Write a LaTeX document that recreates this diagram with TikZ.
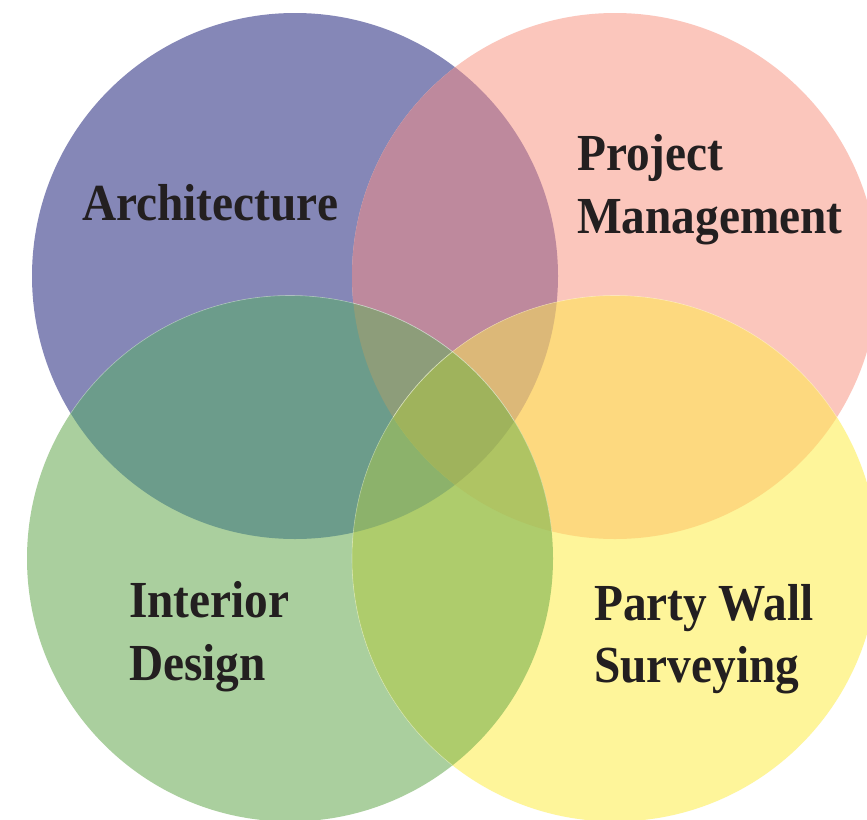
\documentclass[tikz,border=0pt]{standalone}
\usepackage{fontspec}
\newfontfamily\labfont[FakeStretch=0.91]{Liberation Serif}
\definecolor{cB}{HTML}{8587B7}
\definecolor{cP}{HTML}{FBC6BC}
\definecolor{cG}{HTML}{AACF9E}
\definecolor{cY}{HTML}{FEF59A}
\definecolor{cBP}{HTML}{BE899D}
\definecolor{cBG}{HTML}{6C9C8B}
\definecolor{cPY}{HTML}{FDD97F}
\definecolor{cGY}{HTML}{AECC6C}
\definecolor{cBPG}{HTML}{8D9D7A}
\definecolor{cBPY}{HTML}{DCB878}
\definecolor{cBGY}{HTML}{8CB26B}
\definecolor{cPGY}{HTML}{AFC463}
\definecolor{cALL}{HTML}{9FB35C}
\definecolor{txt}{HTML}{231F20}
\begin{document}
\begin{tikzpicture}[x=1pt,y=-1pt,
  lab/.style={anchor=base west,inner sep=0pt,text=txt,font=\labfont\bfseries\fontsize{52}{63}\selectfont},
  seam/.style={draw=white,draw opacity=0.35,line width=0.6pt}]
\clip (0,0) rectangle (867,819);
\fill[white] (0,0) rectangle (867,819);
\coordinate (B) at (295,276);
\coordinate (P) at (615,276);
\coordinate (G) at (290,558.5);
\coordinate (Y) at (615,558.5);
\def\R{263pt}
% single circles
\fill[cB] (B) circle[radius=\R];
\fill[cP] (P) circle[radius=\R];
\fill[cG] (G) circle[radius=\R];
\fill[cY] (Y) circle[radius=\R];
% pairs
\begin{scope}
  \clip (B) circle[radius=\R];
  \fill[cBP] (P) circle[radius=\R];
  \fill[cBG] (G) circle[radius=\R];
\end{scope}
\begin{scope}
  \clip (Y) circle[radius=\R];
  \fill[cPY] (P) circle[radius=\R];
  \fill[cGY] (G) circle[radius=\R];
\end{scope}
% triples
\begin{scope}
  \clip (B) circle[radius=\R];
  \clip (P) circle[radius=\R];
  \fill[cBPG] (G) circle[radius=\R];
  \fill[cBPY] (Y) circle[radius=\R];
\end{scope}
\begin{scope}
  \clip (G) circle[radius=\R];
  \clip (Y) circle[radius=\R];
  \fill[cBGY] (B) circle[radius=\R];
  \fill[cPGY] (P) circle[radius=\R];
\end{scope}
% all four
\begin{scope}
  \clip (B) circle[radius=\R];
  \clip (P) circle[radius=\R];
  \clip (G) circle[radius=\R];
  \fill[cALL] (Y) circle[radius=\R];
\end{scope}
% faint seams
\begin{scope}
  \clip (B) circle[radius=\R];
  \path[seam] (G) circle[radius=\R];
\end{scope}
\begin{scope}
  \clip (P) circle[radius=\R];
  \path[seam] (G) circle[radius=\R];
  \path[seam] (Y) circle[radius=\R];
\end{scope}
\begin{scope}
  \clip (G) circle[radius=\R];
  \path[seam] (Y) circle[radius=\R];
\end{scope}
% labels
\node[lab] (arch) at (82,220) {Architecture};
\node[lab] (pm1) at (577,170) {Project};
\node[lab] (pm2) at (577,233) {Management};
\node[lab] (id1) at (129,617) {Interior};
\node[lab] (id2) at (129,680) {Design};
\node[lab] (pw1) at (594,620) {Party Wall};
\node[lab] (pw2) at (594,682) {Surveying};
\end{tikzpicture}
\end{document}
